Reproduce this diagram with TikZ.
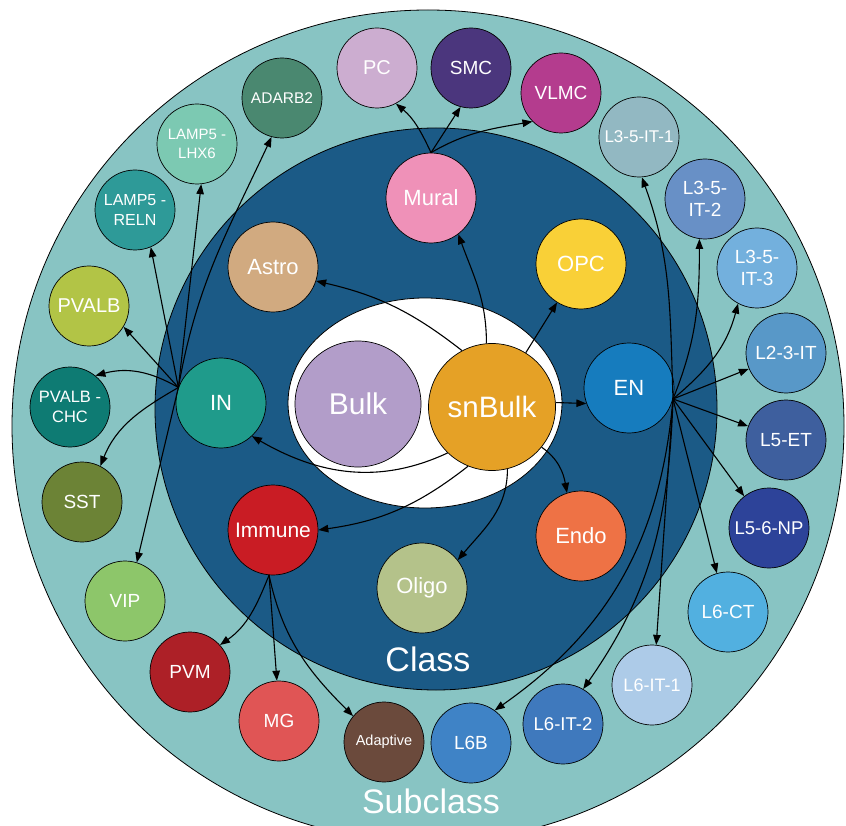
\documentclass[tikz,border=0pt]{standalone}
\usepackage{fontspec}
\setmainfont{Liberation Sans}
\usetikzlibrary{arrows.meta}
\definecolor{ringc}{HTML}{88C4C3}
\definecolor{darkc}{HTML}{1B5A86}
\definecolor{cPC}{HTML}{CCADD0}
\definecolor{cSMC}{HTML}{4B367D}
\definecolor{cVLMC}{HTML}{B43C8E}
\definecolor{cLa}{HTML}{92B8C2}
\definecolor{cLb}{HTML}{6890C6}
\definecolor{cLc}{HTML}{73B0DD}
\definecolor{cLd}{HTML}{5898C8}
\definecolor{cLe}{HTML}{3E5F9E}
\definecolor{cLf}{HTML}{2D4399}
\definecolor{cLg}{HTML}{52B0E0}
\definecolor{cLh}{HTML}{ADCBE8}
\definecolor{cLi}{HTML}{3F79BD}
\definecolor{cLj}{HTML}{3F83C6}
\definecolor{cAdap}{HTML}{6B4A3C}
\definecolor{cMG}{HTML}{E05555}
\definecolor{cPVM}{HTML}{AD2027}
\definecolor{cVIP}{HTML}{8DC66A}
\definecolor{cSST}{HTML}{6C8336}
\definecolor{cCHC}{HTML}{0E7B73}
\definecolor{cPVALB}{HTML}{B2C446}
\definecolor{cRELN}{HTML}{2E9A98}
\definecolor{cLHX}{HTML}{7CC9B2}
\definecolor{cADARB}{HTML}{4A8870}
\definecolor{cMural}{HTML}{EF91B8}
\definecolor{cAstro}{HTML}{D1AA80}
\definecolor{cOPC}{HTML}{F9D037}
\definecolor{cEN}{HTML}{167CBE}
\definecolor{cIN}{HTML}{1F9B8B}
\definecolor{cImm}{HTML}{C91C24}
\definecolor{cOligo}{HTML}{B4C28A}
\definecolor{cEndo}{HTML}{EE7245}
\definecolor{cBulk}{HTML}{B29DC9}
\definecolor{cSnBulk}{HTML}{E5A126}
\begin{document}
\begin{tikzpicture}[x=1pt,y=1pt,
  blob/.style={circle, draw=black, line width=0.7pt, inner sep=0pt, text=white, align=center},
  classn/.style={blob, minimum size=90pt, font=\fontsize{22}{24}\selectfont},
  subn/.style={blob, minimum size=80pt, font=\fontsize{19}{22.5}\selectfont},
  subsm/.style={blob, minimum size=80pt, font=\fontsize{15.5}{19}\selectfont},
  conn/.style={draw=black, line width=1.1pt, -{Triangle[length=10pt,width=7.5pt]}}]
\useasboundingbox (0,0) rectangle (846,-826);
\begin{scope}
\clip (0,0) rectangle (846,-826);
\draw[fill=ringc, line width=0.8pt] (428,-426) circle[radius=416];
\draw[fill=darkc, line width=0.8pt] (436,-409) circle[radius=281];
\draw[fill=white, line width=0.8pt] (425,-403) ellipse[x radius=137, y radius=105];
\end{scope}
\node[text=white, font=\fontsize{34}{37}\selectfont] (classlbl) at (428,-659) {Class};
\node[text=white, font=\fontsize{34}{37}\selectfont] (sublbl) at (431,-801) {Subclass};
% centre
\node[blob, fill=cBulk, minimum size=126pt, font=\fontsize{30}{32}\selectfont] (bulk) at (358,-404) {Bulk};
\node[blob, fill=cSnBulk, minimum size=127pt, font=\fontsize{29.5}{32}\selectfont] (snbulk) at (492,-407) {snBulk};
% class
\node[classn, fill=cMural] (mural) at (431,-198) {Mural};
\node[classn, fill=cAstro] (astro) at (273,-267) {Astro};
\node[classn, fill=cOPC] (opc) at (581,-264) {OPC};
\node[classn, fill=cEN] (en) at (629,-388) {EN};
\node[classn, fill=cIN] (in) at (221,-403) {IN};
\node[classn, fill=cImm, font=\fontsize{21}{23}\selectfont] (immune) at (273,-530) {Immune};
\node[classn, fill=cOligo] (oligo) at (422,-588) {Oligo};
\node[classn, fill=cEndo] (endo) at (581,-536) {Endo};
% subclass
\node[subn, fill=cPC, font=\fontsize{20}{22}\selectfont] (pc) at (377,-68) {PC};
\node[subn, fill=cSMC] (smc) at (471,-68) {SMC};
\node[subn, fill=cVLMC] (vlmc) at (561,-93) {VLMC};
\node[subn, fill=cLa, font=\fontsize{17}{20}\selectfont] (l351) at (639,-137) {L3-5-IT-1};
\node[subn, fill=cLb] (l352) at (705,-199) {L3-5-\\IT-2};
\node[subn, fill=cLc] (l353) at (757,-268) {L3-5-\\IT-3};
\node[subn, fill=cLd] (l23) at (786,-353) {L2-3-IT};
\node[subn, fill=cLe] (l5et) at (786,-440) {L5-ET};
\node[subn, fill=cLf, font=\fontsize{18.5}{22}\selectfont] (l56np) at (769,-528) {L5-6-NP};
\node[subn, fill=cLg] (l6ct) at (728,-612) {L6-CT};
\node[subn, fill=cLh, font=\fontsize{18}{22}\selectfont] (l6it1) at (652,-685) {L6-IT-1};
\node[subn, fill=cLi, font=\fontsize{18.5}{22}\selectfont] (l6it2) at (563,-724) {L6-IT-2};
\node[subn, fill=cLj] (l6b) at (471,-743) {L6B};
\node[subsm, fill=cAdap, font=\fontsize{14.5}{17}\selectfont] (adaptive) at (384,-742) {Adaptive};
\node[subn, fill=cMG] (mg) at (279,-721) {MG};
\node[subn, fill=cPVM] (pvm) at (190,-672) {PVM};
\node[subn, fill=cVIP] (vip) at (125,-601) {VIP};
\node[subn, fill=cSST] (sst) at (82,-502) {SST};
\node[subsm, fill=cCHC, font=\fontsize{16.5}{20}\selectfont] (chc) at (70,-407) {PVALB -\\CHC};
\node[subn, fill=cPVALB, font=\fontsize{20}{22}\selectfont] (pvalb) at (89,-306) {PVALB};
\node[subsm, fill=cRELN, font=\fontsize{16}{20}\selectfont] (reln) at (135,-210) {LAMP5 -\\RELN};
\node[subsm, fill=cLHX, font=\fontsize{15}{18.5}\selectfont] (lhx) at (197,-144) {LAMP5 -\\LHX6};
\node[subsm, fill=cADARB] (adarb) at (282,-98) {ADARB2};
% origins
\coordinate (ino) at (in.160);
\coordinate (eno) at (en.-14);
\coordinate (immo) at (immune.-95);
\coordinate (muro) at (mural.north);
% snBulk edges
\draw[conn] (snbulk.118) to[out=142, in=-13] (astro.-18);
\draw[conn] (snbulk.95) to[out=90, in=-70] (mural.-53);
\draw[conn] (snbulk) -- (opc);
\draw[conn] (snbulk.4) -- (en.200);
\draw[conn] (snbulk.-39) to[out=-35, in=100] (endo.108);
\draw[conn] (snbulk.-76) to[out=-90, in=50] (oligo.38);
\draw[conn] (snbulk.-112) to[out=-142, in=8] (immune.east);
\draw[conn] (snbulk.-134) to[out=-155, in=-30] (in.-47);
% Mural edges
\draw[conn] (muro) to[out=115, in=-40] (pc.-62);
\draw[conn] (muro) -- (smc.-105);
\draw[conn] (muro) to[out=30, in=-170] (vlmc.-135);
% IN edges
\draw[conn] (ino) to[out=80, in=-115] (adarb.-105);
\draw[conn] (ino) -- (lhx.-84);
\draw[conn] (ino) -- (reln.-67);
\draw[conn] (ino) -- (pvalb.-31);
\draw[conn] (ino) to[out=150, in=15] (chc.51);
\draw[conn] (ino) to[out=-150, in=68] (sst.63);
\draw[conn] (ino) -- (vip.73);
% Immune edges
\draw[conn] (immo) to[out=-112, in=35] (pvm.42);
\draw[conn] (immo) -- (mg.93);
\draw[conn] (immo) to[out=-78, in=135] (adaptive.140);
% EN edges
\draw[conn] (eno) to[out=92, in=-70] (l351.-86);
\draw[conn] (eno) to[out=68, in=-90] (l352.-98);
\draw[conn] (eno) to[out=40, in=-105] (l353.-118);
\draw[conn] (eno) -- (l23.-157);
\draw[conn] (eno) -- (l5et.160);
\draw[conn] (eno) -- (l56np.128);
\draw[conn] (eno) -- (l6ct.106);
\draw[conn] (eno) -- (l6it1.84);
\draw[conn] (eno) to[out=-92, in=55] (l6it2.60);
\draw[conn] (eno) to[out=-95, in=35] (l6b.54);
\end{tikzpicture}
\end{document}
